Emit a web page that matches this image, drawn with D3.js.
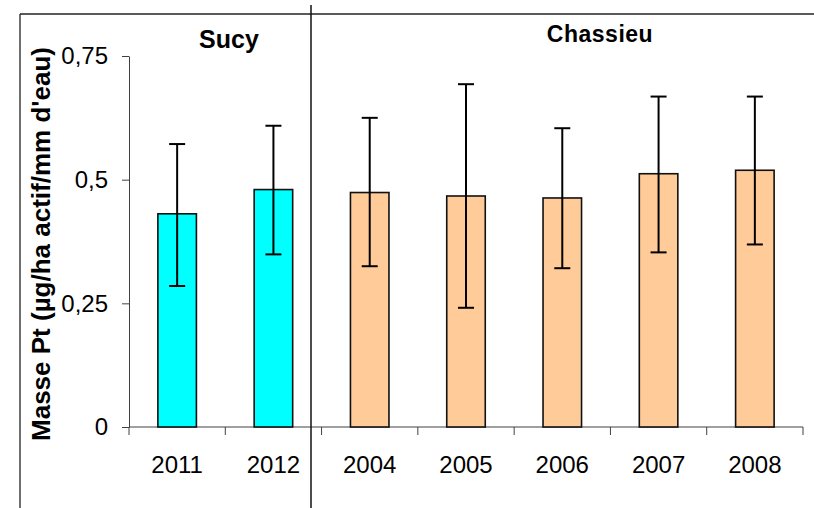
<!DOCTYPE html>
<html><head><meta charset="utf-8">
<script src="https://cdn.jsdelivr.net/npm/d3@7"></script>
<style>body{margin:0;background:#fff}svg{display:block}text{font-family:"Liberation Sans",Arial,sans-serif}</style>
</head><body><svg id="c" width="814" height="508"></svg>
<script>
const categories = ["2011","2012","2004","2005","2006","2007","2008"];
const sites = ["Sucy","Sucy","Chassieu","Chassieu","Chassieu","Chassieu","Chassieu"];
const means = [0.431,0.480,0.474,0.467,0.463,0.512,0.519];
const errLow = [0.285,0.349,0.325,0.241,0.321,0.353,0.369];
const errHigh = [0.572,0.609,0.625,0.693,0.604,0.668,0.668];
const yTicks = [0,0.25,0.5,0.75];
const yTickLabels = ["0","0,25","0,5","0,75"];
const groupTitles = ["Sucy","Chassieu"];
const yLabel = "Masse Pt (µg/ha actif/mm d'eau)";
const siteColors = {"Sucy":"#00FFFF","Chassieu":"#FFCC99"};

const svg = d3.select("#c");
const x = d3.scaleBand().domain(categories).range([129,803]).paddingInner(0.6).paddingOuter(0.3);
const y = d3.scaleLinear().domain([0,0.75]).range([427,56]);
const axisColor = "#404040";

// frame
svg.append("line").attr("x1",20).attr("x2",814).attr("y1",14).attr("y2",14).attr("stroke","#222").attr("stroke-width",1.3);
svg.append("line").attr("x1",20).attr("x2",20).attr("y1",14).attr("y2",508).attr("stroke","#222").attr("stroke-width",1.3);

// y axis
const ya = svg.append("g").attr("transform","translate(129,0)")
  .call(d3.axisLeft(y).tickValues(yTicks).tickFormat((d,i)=>yTickLabels[i]).tickSize(7).tickPadding(14).tickSizeOuter(0));
ya.select(".domain").attr("stroke",axisColor);
ya.selectAll(".tick line").attr("stroke",axisColor);
ya.selectAll("text").attr("font-size",24).attr("fill","#000").style("font-family","'Liberation Sans',Arial,sans-serif");

// x axis line and ticks at band boundaries
svg.append("line").attr("x1",129).attr("x2",x.range()[1]).attr("y1",y(0)).attr("y2",y(0)).attr("stroke",axisColor);
const step = x.step();
const bounds = d3.range(categories.length+1).map(i=>x.range()[0]+i*step);
svg.selectAll(".xt").data(bounds).join("line").attr("class","xt")
  .attr("x1",d=>d).attr("x2",d=>d).attr("y1",y(0)).attr("y2",y(0)+8).attr("stroke",axisColor);
svg.selectAll(".xl").data(categories).join("text").attr("class","xl")
  .attr("x",d=>x(d)+x.bandwidth()/2).attr("y",473).attr("text-anchor","middle")
  .attr("font-size",24).text(d=>d);

// bars
svg.selectAll(".bar").data(categories).join("rect").attr("class","bar")
  .attr("x",d=>x(d)).attr("width",x.bandwidth())
  .attr("y",(d,i)=>y(means[i])).attr("height",(d,i)=>y(0)-y(means[i]))
  .attr("fill",(d,i)=>siteColors[sites[i]]).attr("stroke","#111").attr("stroke-width",1.6);

// error bars
const cap = 8;
const eb = svg.selectAll(".eb").data(categories).join("g").attr("class","eb")
  .attr("transform",d=>`translate(${x(d)+x.bandwidth()/2},0)`);
eb.append("line").attr("y1",(d,i)=>y(errLow[i])).attr("y2",(d,i)=>y(errHigh[i])).attr("stroke","#000").attr("stroke-width",2);
eb.append("line").attr("x1",-cap).attr("x2",cap).attr("y1",(d,i)=>y(errHigh[i])).attr("y2",(d,i)=>y(errHigh[i])).attr("stroke","#000").attr("stroke-width",2);
eb.append("line").attr("x1",-cap).attr("x2",cap).attr("y1",(d,i)=>y(errLow[i])).attr("y2",(d,i)=>y(errLow[i])).attr("stroke","#000").attr("stroke-width",2);

// divider
svg.append("line").attr("x1",311).attr("x2",311).attr("y1",5).attr("y2",508).attr("stroke","#111").attr("stroke-width",1.5);

// group titles
svg.append("text").attr("x",229).attr("y",48).attr("text-anchor","middle").attr("font-size",25).attr("font-weight","bold").text(groupTitles[0]);
svg.append("text").attr("x",600).attr("y",42).attr("text-anchor","middle").attr("font-size",23).attr("font-weight","bold").attr("letter-spacing",0.5).text(groupTitles[1]);

// y label
svg.append("text").attr("transform","translate(50,244) rotate(-90)").attr("text-anchor","middle")
  .attr("font-size",26).attr("font-weight","bold").text(yLabel);
</script></body></html>
